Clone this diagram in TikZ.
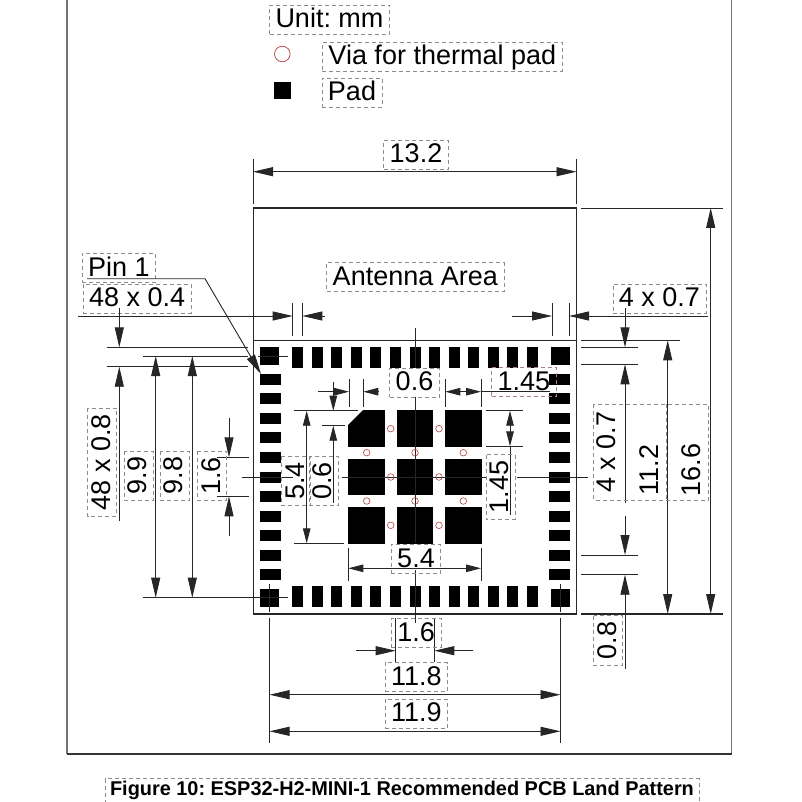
\documentclass[tikz,border=0pt]{standalone}
\usepackage{fontspec}
\setmainfont{Liberation Sans}
\frenchspacing
\usetikzlibrary{arrows.meta}
\definecolor{viared}{HTML}{B5403F}
\tikzset{
    dimtext/.style={draw=black!45, dashed, dash pattern=on 4pt off 3pt, line width=0.6pt, font=\fontsize{27}{30}\selectfont, text height=20.5pt, text depth=4.5pt, inner xsep=6pt, inner ysep=2pt},
    plaintext/.style={font=\fontsize{27}{30}\selectfont, text height=20.5pt, text depth=4.5pt, inner xsep=6pt, inner ysep=2pt},
    dimline/.style={line width=0.9pt, black!85},
    smalltips/.style={>={Triangle[length=15pt,width=7.5pt]}},
    via/.style={draw=viared, line width=0.6pt}
}
\begin{document}
\begin{tikzpicture}[x=1pt, y=-1pt, >={Triangle[length=20pt,width=9pt]}]
\useasboundingbox (0,0) rectangle (802,802);

\draw[line width=1.6pt, black!55] (67,0) -- (67,754);
\draw[line width=1.6pt, black!55] (731.5,0) -- (731.5,754);
\draw[line width=1.2pt, black!80] (67,754) -- (731.5,754);

\node[dimtext] (unit) at (329.5,19.5) {Unit: mm};
\draw[viared, line width=0.7pt] (282.3,54) circle (7.8);
\node[dimtext] (vialabel) at (442.3,56.5) {Via for thermal pad};
\fill (274.3,82.3) rectangle (290.7,99);
\node[dimtext] (padlabel) at (352,92.5) {Pad};

\draw[dimline, line width=1.2pt] (253.5,208) rectangle (576.5,614);
\draw[dimline, line width=1.2pt] (253.5,340.3) -- (576.5,340.3);
\node[dimtext] (antenna) at (415.3,277) {Antenna Area};

\fill (260,347) rectangle (279,365);
\fill (551,347) rectangle (570,365);
\fill (260,589) rectangle (279,607);
\fill (551,589) rectangle (570,607);
\foreach \k in {-6,...,6} {
    \fill (415+\k*19.56-5.5, 346.7) rectangle +(11,21);
    \fill (415+\k*19.56-5.5, 586) rectangle +(11,21);
}
\foreach \k in {-5,...,5} {
    \fill (260, 477+\k*19.56-5.5) rectangle +(21,11);
    \fill (549, 477+\k*19.56-5.5) rectangle +(21,11);
}
\foreach \c in {366.7,415,463.3}
    \foreach \r in {428.7,477,525.3}
        \fill (\c-18.35, \r-18.35) rectangle +(36.7,36.7);
\fill[white] (347.8,409.8) -- (363,409.8) -- (347.8,425) -- cycle;

\draw[dimline] (415,410) -- (415,543);
\draw[dimline] (341.7,477) -- (486.7,477);
\draw[dimline] (516.7,477) -- (588,477);
\draw[dimline] (241.7,477) -- (293.3,477);
\draw[dimline] (415,328) -- (415,368);
\draw[dimline] (415,396.7) -- (415,410);
\draw[dimline] (415,570) -- (415,623);
\foreach \x in {390.7,439}
    \foreach \y in {428.7,477,525.3}
        \draw[via] (\x,\y) circle (3.3);
\foreach \x in {366.7,415,463.3}
    \foreach \y in {452.7,501}
        \draw[via] (\x,\y) circle (3.3);

\draw[dimline] (253,159) -- (253,204);
\draw[dimline] (576.5,159) -- (576.5,204);
\draw[dimline, <->] (253,171.7) -- (576.5,171.7);
\node[dimtext] (widthtotal) at (416,154.5) {13.2};

\node[dimtext] (pinone) at (119,268) {Pin 1};
\node[dimtext] (padwidthtop) at (137.2,298.4) {48 x 0.4};
\draw[dimline, ->] (87,278.7) -- (205,278.7) -- (261,374);
\draw[dimline, ->] (78,316) -- (292.7,316);
\draw[dimline, ->] (325,316) -- (302.3,316);
\draw[dimline] (292.7,303) -- (292.7,335.7);
\draw[dimline] (302.3,303) -- (302.3,335.7);
\draw[dimline, ->] (512.3,316) -- (552,316);
\draw[dimline, ->] (707.7,316) -- (569,316);
\draw[dimline] (552,303) -- (552,335.7);
\draw[dimline] (569,303) -- (569,335.7);
\node[dimtext] (padwidthright) at (659.5,298.8) {4 x 0.7};

\draw[dimline] (106.7,347.3) -- (248.3,347.3);
\draw[dimline] (106.7,366.7) -- (248.3,366.7);
\draw[dimline, ->] (119.3,308) -- (119.3,347.3);
\draw[dimline, ->] (119.3,521) -- (119.3,366.7);
\node[dimtext, rotate=90] (padlenleft) at (102,462.3) {48 x 0.8};
\draw[dimline] (143.3,356) -- (248.3,356);
\draw[dimline] (143.3,597.7) -- (248.3,597.7);
\draw[dimline] (258,356) -- (288,356);
\draw[dimline] (240,597.7) -- (288,597.7);
\draw[dimline, <->] (155.7,356) -- (155.7,597.7);
\node[dimtext, rotate=90] (pitchouter) at (138.8,475.7) {9.9};
\draw[dimline, <->] (192.3,356) -- (192.3,597.7);
\node[dimtext, rotate=90] (pitchinner) at (174.8,475.7) {9.8};
\draw[dimline] (216.7,457.3) -- (249,457.3);
\draw[dimline] (216.7,496.3) -- (249,496.3);
\draw[dimline, ->] (229,418.3) -- (229,457.3);
\draw[dimline, ->] (229,535.7) -- (229,496.3);
\node[dimtext, rotate=90] (leftgap) at (212,476) {1.6};

\draw[dimline] (294.3,410.7) -- (358,410.7);
\draw[dimline] (294,543.3) -- (344.3,543.3);
\draw[dimline, smalltips, <->] (306.7,410.7) -- (306.7,543.3);
\node[dimtext, rotate=90] (thermalheight) at (296,481) {5.4};
\draw[dimline] (322,425.7) -- (345,425.7);
\draw[dimline, smalltips, ->] (333.3,381.7) -- (333.3,410.7);
\draw[dimline, smalltips, ->] (333.3,503.3) -- (333.3,425.7);
\node[dimtext, rotate=90] (chamferv) at (323.7,481) {0.6};
\draw[dimline] (349,379) -- (349,406.7);
\draw[dimline] (363.3,379) -- (363.3,406.7);
\draw[dimline, smalltips, ->] (318,391.7) -- (349,391.7);
\draw[dimline, smalltips, ->] (379,391.7) -- (363.3,391.7);
\node[dimtext] (chamferh) at (414.5,382.5) {0.6};
\draw[dimline] (445.3,379) -- (445.3,406.7);
\draw[dimline] (481,379) -- (481,406.7);
\draw[dimline, smalltips, <->] (445.3,391.7) -- (481,391.7);
\draw[dimline] (481,391.7) -- (550,391.7);
\node[dimtext, draw=red!35!black!50] (padsizeh) at (523.8,382.2) {1.45};
\draw[dimline] (486,410.7) -- (522.7,410.7);
\draw[dimline] (486,446.3) -- (522.7,446.3);
\draw[dimline, smalltips, <->] (510,410.7) -- (510,446.3);
\draw[dimline] (510,446.3) -- (510,515);
\node[dimtext, rotate=90] (padsizev) at (500.5,487) {1.45};
\draw[dimline] (348.3,547.7) -- (348.3,581);
\draw[dimline] (481,547.7) -- (481,581);
\draw[dimline, smalltips, <->] (348.3,568.3) -- (481,568.3);
\node[dimtext] (thermalwidth) at (416,559) {5.4};

\draw[dimline] (581,208) -- (722.7,208);
\draw[dimline] (581,340.3) -- (680,340.3);
\draw[dimline, line width=1.2pt] (581,614) -- (722.7,614);
\draw[dimline] (581,347.3) -- (637.7,347.3);
\draw[dimline] (581,364.3) -- (637.7,364.3);
\draw[dimline, ->] (625,308) -- (625,347.3);
\draw[dimline, ->] (625,503) -- (625,364.3);
\draw[dimline] (581,555) -- (637.7,555);
\draw[dimline] (581,574.7) -- (637.7,574.7);
\draw[dimline, ->] (625,516) -- (625,555);
\draw[dimline, ->] (625,669) -- (625,574.7);
\draw[dimline, <->] (667.7,340.3) -- (667.7,614);
\draw[dimline, <->] (710.7,208) -- (710.7,614);
\draw[black!45, dashed, dash pattern=on 4pt off 3pt, line width=0.6pt] (593.3,404.3) rectangle (708.3,500);
\draw[black!45, dashed, dash pattern=on 4pt off 3pt, line width=0.6pt] (666.7,404.3) -- (666.7,500);
\node[plaintext, rotate=90] (padlenright) at (607.8,452) {4 x 0.7};
\node[plaintext, rotate=90] (pitchright) at (650,470) {11.2};
\node[plaintext, rotate=90] (heighttotal) at (692,470) {16.6};
\node[dimtext, rotate=90] (bottomgap) at (608,640.3) {0.8};

\draw[dimline] (395.7,618) -- (395.7,661.7);
\draw[dimline] (434.3,618) -- (434.3,661.7);
\draw[dimline, ->] (356,650.7) -- (395.7,650.7);
\draw[dimline, ->] (473.3,650.7) -- (434.3,650.7);
\node[dimtext] (bottomcentre) at (416.2,633) {1.6};
\draw[dimline] (269.5,584) -- (269.5,612);
\draw[dimline] (560,584) -- (560,612);
\draw[dimline] (269.5,618) -- (269.5,743);
\draw[dimline] (560.5,618) -- (560.5,743);
\draw[dimline, <->] (269.5,694.7) -- (560.5,694.7);
\node[dimtext] (spaninner) at (416.3,677) {11.8};
\draw[dimline, <->] (269.5,731.3) -- (560.5,731.3);
\node[dimtext] (spanouter) at (416.3,713.7) {11.9};

\node[draw=black!45, dashed, dash pattern=on 4pt off 3pt, line width=0.6pt, font=\fontsize{19.9}{22}\selectfont\bfseries, text height=14.5pt, text depth=4pt, inner xsep=5pt, inner ysep=2.5pt] (caption) at (402,790.5) {Figure 10: ESP32-H2-MINI-1 Recommended PCB Land Pattern};

\end{tikzpicture}
\end{document}
